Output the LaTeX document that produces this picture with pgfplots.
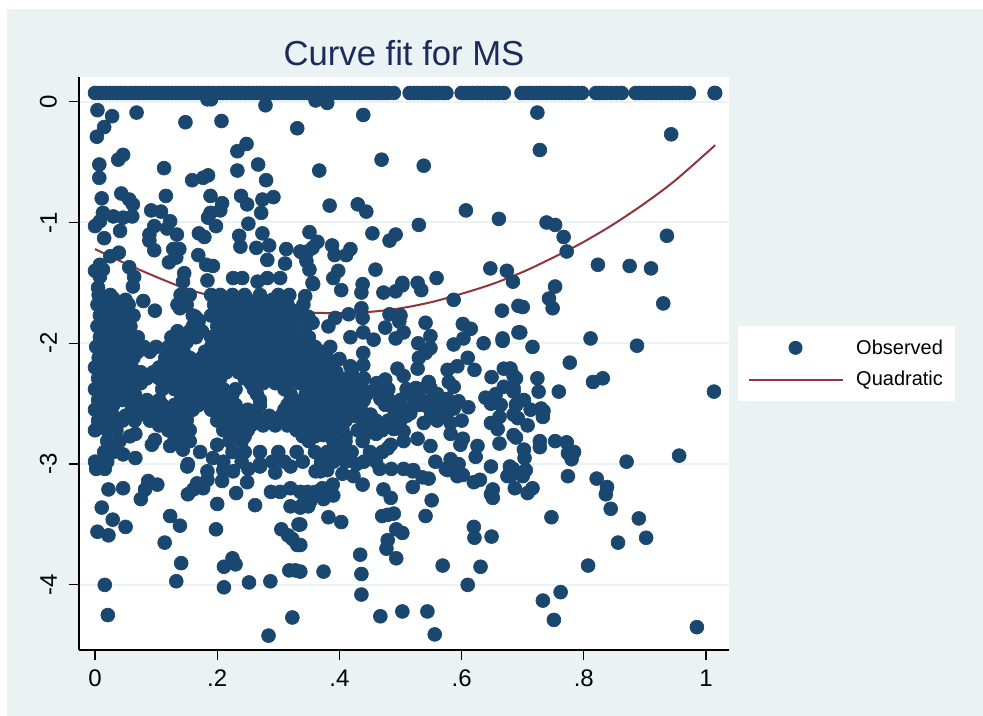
\documentclass[border=0pt]{standalone}
\usepackage{fontspec}
\setmainfont{Liberation Sans}
\usepackage{pgfplots}
\pgfplotsset{compat=1.18}
\definecolor{bgc}{HTML}{EAF2F3}
\definecolor{ptc}{HTML}{1A476F}
\definecolor{linec}{HTML}{90353B}
\definecolor{titlec}{HTML}{1C2B5C}
\begin{document}
\begin{tikzpicture}
\path[fill=white] (0,0) rectangle (737.25pt,537pt);
\path[fill=bgc] (5.25pt,0) rectangle (737.25pt,530pt);
\begin{axis}[
  at={(59.25pt,49.5pt)}, anchor=south west,
  scale only axis, width=487.5pt, height=429.75pt,
  xmin=-0.0262, xmax=1.0376, ymin=-4.539, ymax=0.2045,
  axis background/.style={fill=white},
  axis lines=left, axis line style={-, black, line width=0.9pt},
  xtick={0,0.2,0.4,0.6,0.8,1}, xticklabels={0,.2,.4,.6,.8,1},
  ytick={-4,-3,-2,-1,0}, yticklabels={-4,-3,-2,-1,0},
  tick align=outside, major tick length=7.5pt,
  tick style={black, line width=0.9pt},
  ymajorgrids, grid style={bgc, line width=1.5pt},
  tick label style={font=\fontsize{18}{18}\selectfont},
  xticklabel style={yshift=-4pt},
  yticklabel style={rotate=90, anchor=south, yshift=5.5pt},
  title={Curve fit for MS},
  title style={font=\fontsize{26}{26}\selectfont, text=titlec, yshift=-1pt},
  legend style={at={(1.0138,0.5654)}, anchor=north west, draw=none, fill=white,
    font=\fontsize{15}{15}\selectfont, inner xsep=7pt, inner ysep=8pt,
    row sep=7.5pt, cells={anchor=west}},
]
\addplot[only marks, mark=*, mark size=5.2pt, mark options={draw=ptc, fill=ptc, line width=0.5pt},
  legend image code/.code={\path[draw=none,fill=none] (0,0) -- (78.75pt,0); \path[draw=none,fill=ptc] (35.25pt,0) circle (5.25pt);}]
coordinates {
% top row
(0,.072)(.006,.072)(.012,.072)(.018,.072)(.024,.072)(.030,.072)(.036,.072)(.042,.072)(.048,.072)(.054,.072)(.060,.072)(.066,.072)(.072,.072)(.078,.072)(.084,.072)(.090,.072)(.096,.072)(.102,.072)(.108,.072)(.114,.072)(.120,.072)(.126,.072)(.132,.072)(.138,.072)(.144,.072)(.150,.072)(.156,.072)(.162,.072)(.168,.072)(.174,.072)(.180,.072)(.186,.072)(.192,.072)(.198,.072)(.204,.072)(.210,.072)(.216,.072)(.222,.072)(.228,.072)(.234,.072)(.240,.072)(.246,.072)(.252,.072)(.258,.072)(.264,.072)(.270,.072)(.276,.072)(.282,.072)(.288,.072)(.294,.072)(.300,.072)(.306,.072)(.312,.072)(.318,.072)(.324,.072)(.330,.072)(.336,.072)(.342,.072)(.348,.072)(.354,.072)(.360,.072)(.366,.072)(.372,.072)(.378,.072)(.384,.072)(.390,.072)(.396,.072)(.402,.072)(.408,.072)(.414,.072)(.420,.072)(.426,.072)(.432,.072)(.438,.072)(.444,.072)(.450,.072)(.456,.072)(.462,.072)(.468,.072)(.474,.072)(.480,.072)(.489,.072)
(.515,.072)(.522,.072)(.528,.072)(.535,.072)(.541,.072)(.547,.072)(.552,.072)(.558,.072)(.564,.072)(.570,.072)(.575,.072)
(.600,.072)(.606,.072)(.612,.072)(.618,.072)(.625,.072)(.630,.072)(.636,.072)(.642,.072)(.648,.072)(.654,.072)(.660,.072)(.669,.072)
(.698,.072)(.704,.072)(.710,.072)(.716,.072)(.722,.072)(.728,.072)(.734,.072)(.740,.072)(.746,.072)(.752,.072)(.758,.072)(.764,.072)(.770,.072)(.776,.072)(.782,.072)(.790,.072)(.797,.072)
(.820,.072)(.826,.072)(.832,.072)(.838,.072)(.845,.072)(.853,.072)(.862,.072)
(.885,.072)(.891,.072)(.897,.072)(.903,.072)(.909,.072)(.915,.072)(.921,.072)(.927,.072)(.933,.072)(.939,.072)(.945,.072)(.951,.072)(.957,.072)(.965,.072)(.972,.072)
(1.015,.072)(1.014,.072)
(.184,.02)(.19,.02)(.361,.01)(.380,-.01)
% upper left
(.004,-.07)(.028,-.12)(.068,-.09)(.015,-.21)(.003,-.29)(.148,-.17)(.207,-.16)(.279,-.03)(.331,-.22)(.248,-.35)(.233,-.41)(.046,-.44)(.038,-.48)(.007,-.52)(.007,-.63)(.113,-.55)(.159,-.65)(.177,-.63)(.185,-.61)(.233,-.57)(.267,-.52)(.280,-.65)(.116,-.78)(.011,-.80)(.043,-.76)(.056,-.81)(.062,-.85)(.189,-.78)(.208,-.84)(.205,-.90)(.189,-.92)(.185,-.96)(.198,-1.03)(.239,-.78)(.249,-.85)(.274,-.81)(.292,-.79)(.272,-.92)(.251,-1.01)(.274,-1.09)(.236,-1.11)(.238,-1.20)(.264,-1.21)(.285,-1.19)(.313,-1.22)(.282,-1.31)(.311,-1.34)(.336,-1.24)(.013,-.92)(.008,-.99)(0,-1.03)(.015,-1.13)(.041,-1.07)(.030,-.95)(.046,-.96)(.061,-.95)(.092,-.90)(.108,-.91)(.123,-.99)(.097,-1.03)(.089,-1.10)(.089,-1.15)(.097,-1.23)(.118,-1.05)(.134,-1.10)(.170,-1.09)(.179,-1.12)(.128,-1.22)(.138,-1.22)(.133,-1.29)(.121,-1.33)(.169,-1.27)(.182,-1.35)(.193,-1.36)(.146,-1.42)(.039,-1.25)(.025,-1.28)(.056,-1.37)(.064,-1.45)(.008,-1.35)(0,-1.40)(.013,-1.39)(.008,-1.45)(.184,-1.48)(.226,-1.46)(.241,-1.46)(.282,-1.46)(.303,-1.46)(.266,-1.49)(.144,-1.49)
% upper middle
(.439,-.11)(.469,-.48)(.538,-.53)(.367,-.57)(.384,-.86)(.430,-.85)(.444,-.91)(.607,-.90)(.661,-.97)(.530,-1.02)(.454,-1.09)(.492,-1.10)(.482,-1.15)(.351,-1.08)(.364,-1.16)(.348,-1.24)(.356,-1.21)(.339,-1.25)(.388,-1.19)(.392,-1.27)(.411,-1.27)(.418,-1.22)(.346,-1.32)(.351,-1.39)(.398,-1.40)(.390,-1.46)(.459,-1.39)(.559,-1.46)(.647,-1.38)(.674,-1.40)(.684,-1.49)(.503,-1.50)(.528,-1.50)(.438,-1.51)(.356,-1.50)
% upper right
(.724,-.09)(.728,-.40)(.943,-.27)(.739,-1.00)(.753,-1.02)(.767,-1.12)(.772,-1.24)(.936,-1.11)(.823,-1.35)(.875,-1.36)(.910,-1.38)
% just above the dense part
(.005,-1.54)(.062,-1.53)(.030,-1.63)(.079,-1.65)(.098,-1.73)(.139,-1.71)(.164,-1.78)
(.357,-1.51)(.403,-1.56)(.436,-1.58)(.472,-1.58)(.492,-1.57)(.503,-1.52)(.534,-1.56)(.587,-1.64)(.666,-1.73)(.693,-1.69)(.344,-1.61)(.341,-1.68)(.349,-1.78)(.356,-1.83)(.382,-1.86)(.393,-1.79)(.415,-1.76)(.436,-1.71)(.438,-1.79)(.418,-1.95)(.439,-1.91)(.456,-1.97)(.482,-1.76)(.500,-1.77)(.498,-1.82)(.475,-1.87)(.492,-1.96)(.505,-1.91)(.541,-1.83)(.549,-1.94)(.529,-2.00)(.549,-2.04)(.541,-2.08)(.530,-2.12)(.528,-2.21)(.602,-1.84)(.615,-1.88)(.603,-1.96)(.587,-2.01)(.636,-2.00)(.667,-1.96)(.667,-1.98)(.693,-1.91)(.610,-2.12)(.593,-2.19)(.577,-2.22)(.621,-2.22)(.649,-2.28)(.579,-2.32)(.587,-2.36)(.495,-2.21)(.505,-2.27)(.669,-2.21)(.679,-2.21)(.685,-2.27)(.669,-2.36)(.656,-2.42)(.639,-2.45)(.648,-2.50)(.664,-2.51)(.689,-2.51)(.685,-2.40)(.439,-2.08)(.439,-2.18)(.400,-2.13)(.418,-2.19)(.407,-2.30)(.475,-2.30)(.461,-2.33)(.525,-2.37)(.546,-2.32)(.549,-2.37)(.525,-2.46)(.521,-2.52)(.595,-2.48)(.611,-2.53)(.577,-2.46)(.587,-2.54)(.543,-2.52)(.538,-2.66)(.549,-2.85)(.582,-2.66)(.582,-2.75)(.602,-2.79)(.598,-2.84)(.626,-2.85)(.623,-2.94)(.662,-2.83)(.648,-2.66)(.659,-2.71)(.662,-2.61)(.685,-2.59)(.685,-2.76)(.557,-2.98)(.582,-2.96)(.595,-3.00)(.574,-3.04)(.648,-3.02)(.679,-3.02)(.516,-2.58)(.500,-2.55)(.528,-2.79)(.505,-2.81)(.484,-2.84)(.505,-2.73)(.489,-2.71)(.451,-2.59)(.467,-2.46)(.480,-2.46)(.430,-2.37)(.446,-2.40)(.374,-2.76)(.405,-2.71)(.438,-2.81)(.428,-3.00)(.479,-2.87)(.505,-3.04)(.521,-3.05)
% right side
(.753,-1.53)(.743,-1.63)(.749,-1.71)(.700,-1.70)(.930,-1.67)(.696,-1.91)(.716,-2.03)(.811,-1.96)(.887,-2.02)(.777,-2.16)(.724,-2.29)(.726,-2.40)(.759,-2.40)(.831,-2.29)(.815,-2.32)(1.013,-2.40)(.689,-2.29)(.680,-2.21)(.685,-2.37)(.702,-2.47)(.689,-2.51)(.713,-2.55)(.730,-2.54)(.734,-2.56)(.733,-2.61)(.708,-2.68)(.692,-2.62)(.689,-2.78)(.728,-2.81)(.728,-2.86)(.702,-2.88)(.703,-2.95)(.753,-2.81)(.772,-2.82)(.784,-2.90)(.774,-2.91)(.780,-2.96)(.870,-2.98)(.956,-2.93)(.705,-3.05)(.684,-3.04)
(.774,-3.10)(.821,-3.12)(.838,-3.19)(.836,-3.25)(.844,-3.37)(.890,-3.45)(.902,-3.61)(.856,-3.65)(.747,-3.44)(.807,-3.84)(.762,-4.06)(.733,-4.13)(.751,-4.29)(.985,-4.35)(.687,-3.20)(.708,-3.24)(.716,-3.20)(.700,-3.10)(.680,-3.10)
% lower middle
(.361,-3.06)(.380,-3.05)(.369,-3.06)(.405,-3.08)(.423,-3.10)(.438,-3.17)(.466,-3.04)(.485,-3.04)(.520,-3.06)(.520,-3.19)(.472,-3.21)(.484,-3.28)(.479,-3.42)(.489,-3.41)(.470,-3.43)(.551,-3.30)(.541,-3.43)(.536,-3.11)(.546,-3.12)(.577,-3.05)(.593,-3.10)(.602,-3.09)(.620,-3.15)(.630,-3.13)(.675,-3.10)(.651,-3.21)(.648,-3.25)(.651,-3.28)(.620,-3.52)(.621,-3.61)(.649,-3.60)(.569,-3.84)(.631,-3.85)(.610,-4.00)(.434,-3.75)(.436,-3.91)(.436,-4.08)(.374,-3.89)(.336,-3.89)(.493,-3.78)(.479,-3.63)(.477,-3.70)(.493,-3.54)(.503,-3.57)(.336,-3.50)(.336,-3.67)(.382,-3.44)(.403,-3.48)(.467,-4.26)(.503,-4.22)(.544,-4.22)(.556,-4.41)(.348,-3.23)(.361,-3.23)(.372,-3.20)(.389,-3.17)(.390,-3.26)(.374,-3.29)(.357,-3.25)(.349,-3.35)(.339,-3.34)(.352,-3.31)
% lower left
(.002,-3.04)(.016,-3.04)(.022,-3.21)(.046,-3.20)(.011,-3.36)(.029,-3.46)(.050,-3.52)(.004,-3.56)(.022,-3.59)(.016,-4.00)(.021,-4.25)(.087,-3.14)(.102,-3.17)(.082,-3.21)(.075,-3.29)(.123,-3.43)(.139,-3.51)(.114,-3.65)(.141,-3.82)(.133,-3.97)(.152,-3.25)(.161,-3.21)(.167,-3.16)(.177,-3.20)(.184,-3.13)(.184,-3.06)(.151,-3.02)(.208,-3.14)(.200,-3.33)(.198,-3.54)(.231,-3.24)(.249,-3.15)(.262,-3.34)(.210,-3.05)(.226,-3.06)(.251,-3.04)(.270,-3.02)(.295,-3.07)(.288,-3.23)(.303,-3.23)(.320,-3.20)(.320,-3.35)(.336,-3.23)(.336,-3.36)(.305,-3.54)(.316,-3.59)(.323,-3.62)(.331,-3.67)(.333,-3.50)(.225,-3.78)(.230,-3.83)(.211,-3.85)(.211,-4.02)(.252,-3.98)(.287,-3.97)(.318,-3.88)(.328,-3.88)(.323,-4.27)(.284,-4.42)(.320,-3.02)
% dense part, rows
(.006,-1.60)(.025,-1.60)(.14,-1.60)(.155,-1.60)(.19,-1.60)(.205,-1.60)(.225,-1.60)(.245,-1.60)(.27,-1.60)(.30,-1.60)(.318,-1.60)
(.004,-1.68)(.02,-1.68)(.04,-1.68)(.055,-1.68)(.135,-1.68)(.15,-1.68)(.195,-1.68)(.215,-1.68)(.235,-1.68)(.255,-1.68)(.275,-1.68)(.295,-1.68)(.315,-1.68)
(.008,-1.77)(.028,-1.77)(.048,-1.77)(.063,-1.77)(.16,-1.77)(.19,-1.77)(.21,-1.77)(.23,-1.77)(.25,-1.77)(.27,-1.77)(.29,-1.77)(.31,-1.77)(.33,-1.77)
(.004,-1.86)(.022,-1.86)(.042,-1.86)(.058,-1.86)(.16,-1.86)(.20,-1.86)(.22,-1.86)(.24,-1.86)(.26,-1.86)(.28,-1.86)(.30,-1.86)(.32,-1.86)(.345,-1.86)
(.008,-1.95)(.03,-1.95)(.05,-1.95)(.07,-1.95)(.125,-1.95)(.145,-1.95)(.165,-1.95)(.19,-1.95)(.21,-1.95)(.23,-1.95)(.25,-1.95)(.27,-1.95)(.29,-1.95)(.31,-1.95)(.33,-1.95)(.35,-1.95)
(.002,-2.03)(.02,-2.03)(.04,-2.03)(.06,-2.03)(.08,-2.03)(.10,-2.03)(.12,-2.03)(.14,-2.03)(.19,-2.03)(.21,-2.03)(.23,-2.03)(.25,-2.03)(.27,-2.03)(.29,-2.03)(.31,-2.03)(.33,-2.03)(.36,-2.03)(.385,-2.03)
(.006,-2.12)(.025,-2.12)(.045,-2.12)(.063,-2.12)(.115,-2.12)(.135,-2.12)(.155,-2.12)(.175,-2.12)(.195,-2.12)(.22,-2.12)(.24,-2.12)(.26,-2.12)(.28,-2.12)(.30,-2.12)(.32,-2.12)(.34,-2.12)(.36,-2.12)(.38,-2.12)
(0,-2.20)(.02,-2.20)(.04,-2.20)(.06,-2.20)(.105,-2.20)(.125,-2.20)(.145,-2.20)(.165,-2.20)(.185,-2.20)(.205,-2.20)(.225,-2.20)(.245,-2.20)(.265,-2.20)(.285,-2.20)(.305,-2.20)(.325,-2.20)(.345,-2.20)(.365,-2.20)(.385,-2.20)
(.005,-2.29)(.025,-2.29)(.045,-2.29)(.065,-2.29)(.085,-2.29)(.105,-2.29)(.125,-2.29)(.145,-2.29)(.165,-2.29)(.185,-2.29)(.205,-2.29)(.245,-2.29)(.265,-2.29)(.285,-2.29)(.305,-2.29)(.325,-2.29)(.345,-2.29)(.365,-2.29)(.385,-2.29)(.42,-2.29)(.44,-2.29)
(0,-2.38)(.02,-2.38)(.04,-2.38)(.06,-2.38)(.11,-2.38)(.13,-2.38)(.15,-2.38)(.17,-2.38)(.19,-2.38)(.21,-2.38)(.23,-2.38)(.26,-2.38)(.31,-2.38)(.35,-2.38)(.37,-2.38)(.39,-2.38)(.41,-2.38)(.46,-2.38)(.48,-2.38)(.51,-2.38)(.53,-2.38)
(.005,-2.47)(.025,-2.47)(.045,-2.47)(.065,-2.47)(.085,-2.47)(.105,-2.47)(.14,-2.47)(.16,-2.47)(.18,-2.47)(.20,-2.47)(.22,-2.47)(.27,-2.47)(.32,-2.47)(.34,-2.47)(.36,-2.47)(.38,-2.47)(.40,-2.47)(.42,-2.47)(.44,-2.47)(.50,-2.47)(.55,-2.47)(.57,-2.47)
(0,-2.55)(.02,-2.55)(.06,-2.55)(.08,-2.55)(.10,-2.55)(.12,-2.55)(.14,-2.55)(.16,-2.55)(.19,-2.55)(.21,-2.55)(.23,-2.55)(.25,-2.55)(.31,-2.55)(.33,-2.55)(.35,-2.55)(.37,-2.55)(.39,-2.55)(.41,-2.55)(.43,-2.55)(.49,-2.55)(.56,-2.55)(.58,-2.55)
(.005,-2.64)(.025,-2.64)(.045,-2.64)(.065,-2.64)(.09,-2.64)(.11,-2.64)(.13,-2.64)(.15,-2.64)(.20,-2.64)(.22,-2.64)(.24,-2.64)(.26,-2.64)(.28,-2.64)(.30,-2.64)(.32,-2.64)(.34,-2.64)(.36,-2.64)(.38,-2.64)(.41,-2.64)(.44,-2.64)(.46,-2.64)(.48,-2.64)(.50,-2.64)(.56,-2.64)(.60,-2.64)
(0,-2.72)(.02,-2.72)(.035,-2.72)(.12,-2.72)(.14,-2.72)(.155,-2.72)(.21,-2.72)(.23,-2.72)(.25,-2.72)(.33,-2.72)(.35,-2.72)(.39,-2.72)(.43,-2.72)(.45,-2.72)(.47,-2.72)
(.02,-2.81)(.04,-2.81)(.057,-2.77)(.066,-2.75)(.098,-2.80)(.093,-2.84)(.123,-2.85)(.14,-2.81)(.155,-2.81)(.20,-2.84)(.22,-2.81)(.24,-2.81)(.35,-2.81)(.39,-2.81)(.41,-2.81)(.46,-2.75)
(.015,-2.90)(.03,-2.90)(.046,-2.92)(.066,-2.95)(.144,-2.88)(.172,-2.90)(.193,-2.95)(.225,-2.90)(.245,-2.90)(.27,-2.90)(.30,-2.90)(.33,-2.90)(.36,-2.90)(.38,-2.90)(.40,-2.90)(.42,-2.90)(.45,-2.90)(.47,-2.90)
(.0,-2.98)(.02,-2.98)(.152,-3.00)(.21,-2.98)(.24,-2.98)(.27,-3.00)(.29,-2.98)(.31,-2.98)(.34,-2.98)(.37,-2.98)(.39,-2.98)(.41,-2.98)(.44,-2.98)(.46,-2.98)
% dense part, staggered rows
(.01,-1.64)(.03,-1.64)(.05,-1.64)(.01,-1.72)(.03,-1.72)(.05,-1.72)(.01,-1.81)(.03,-1.81)(.05,-1.81)(.01,-1.90)(.03,-1.90)(.05,-1.90)(.01,-1.99)(.03,-1.99)(.05,-1.99)(.01,-2.07)(.03,-2.07)(.05,-2.07)(.01,-2.16)(.03,-2.16)(.05,-2.16)(.01,-2.24)(.03,-2.24)(.05,-2.24)(.01,-2.33)(.03,-2.33)(.05,-2.33)(.01,-2.42)(.03,-2.42)(.05,-2.42)(.01,-2.51)(.03,-2.51)(.01,-2.60)(.03,-2.60)(.05,-2.60)(.01,-2.68)(.03,-2.68)
(.21,-1.64)(.23,-1.64)(.25,-1.64)(.27,-1.64)(.29,-1.64)(.31,-1.64)
(.20,-1.72)(.22,-1.72)(.24,-1.72)(.26,-1.72)(.28,-1.72)(.30,-1.72)(.32,-1.72)
(.17,-1.81)(.205,-1.81)(.225,-1.81)(.245,-1.81)(.265,-1.81)(.285,-1.81)(.305,-1.81)(.325,-1.81)
(.135,-1.90)(.155,-1.90)(.175,-1.90)(.205,-1.90)(.225,-1.90)(.245,-1.90)(.265,-1.90)(.285,-1.90)(.305,-1.90)(.325,-1.90)
(.13,-1.99)(.15,-1.99)(.20,-1.99)(.22,-1.99)(.24,-1.99)(.26,-1.99)(.28,-1.99)(.30,-1.99)(.32,-1.99)(.34,-1.99)
(.07,-2.07)(.09,-2.07)(.125,-2.07)(.145,-2.07)(.18,-2.07)(.205,-2.07)(.23,-2.07)(.25,-2.07)(.27,-2.07)(.29,-2.07)(.31,-2.07)(.33,-2.07)(.35,-2.07)(.37,-2.07)
(.115,-2.16)(.13,-2.16)(.15,-2.16)(.17,-2.16)(.19,-2.16)(.21,-2.16)(.23,-2.16)(.25,-2.16)(.27,-2.16)(.29,-2.16)(.31,-2.16)(.33,-2.16)(.35,-2.16)(.37,-2.16)(.39,-2.16)
(.075,-2.24)(.095,-2.24)(.115,-2.24)(.135,-2.24)(.155,-2.24)(.175,-2.24)(.195,-2.24)(.215,-2.24)(.235,-2.24)(.255,-2.24)(.275,-2.24)(.295,-2.24)(.315,-2.24)(.335,-2.24)(.355,-2.24)(.375,-2.24)(.395,-2.24)(.42,-2.24)
(.075,-2.33)(.12,-2.33)(.14,-2.33)(.16,-2.33)(.18,-2.33)(.20,-2.33)(.255,-2.33)(.275,-2.33)(.295,-2.33)(.315,-2.33)(.335,-2.33)(.355,-2.33)(.375,-2.33)(.395,-2.33)(.43,-2.33)
(.065,-2.42)(.145,-2.42)(.165,-2.42)(.185,-2.42)(.205,-2.42)(.225,-2.42)(.265,-2.42)(.32,-2.42)(.345,-2.42)(.365,-2.42)(.385,-2.42)(.405,-2.42)(.425,-2.42)(.445,-2.42)(.51,-2.42)(.53,-2.42)(.56,-2.42)
(.07,-2.51)(.09,-2.51)(.11,-2.51)(.13,-2.51)(.15,-2.51)(.17,-2.51)(.21,-2.51)(.23,-2.51)(.27,-2.51)(.315,-2.51)(.335,-2.51)(.355,-2.51)(.375,-2.51)(.395,-2.51)(.415,-2.51)(.435,-2.51)(.475,-2.51)(.50,-2.51)(.53,-2.51)(.56,-2.51)
(.07,-2.60)(.09,-2.60)(.11,-2.60)(.13,-2.60)(.15,-2.60)(.205,-2.60)(.225,-2.60)(.245,-2.60)(.265,-2.60)(.285,-2.60)(.305,-2.60)(.325,-2.60)(.345,-2.60)(.365,-2.60)(.385,-2.60)(.405,-2.60)(.425,-2.60)(.49,-2.60)(.51,-2.60)(.55,-2.60)(.57,-2.60)
(.105,-2.68)(.125,-2.68)(.145,-2.68)(.215,-2.68)(.235,-2.68)(.255,-2.68)(.275,-2.68)(.295,-2.68)(.315,-2.68)(.335,-2.68)(.355,-2.68)(.375,-2.68)(.395,-2.68)(.44,-2.68)(.46,-2.68)(.48,-2.68)
(.13,-2.77)(.15,-2.77)(.225,-2.77)(.245,-2.77)(.34,-2.77)(.36,-2.77)(.41,-2.77)(.44,-2.77)
};
\addlegendentry{Observed\hspace{5pt}}
\addplot[linec, line width=1.5pt, smooth,
  legend image code/.code={\path[draw=none] (0,0) -- (78.75pt,0); \draw[linec, line width=1.5pt] (0,0) -- (70.5pt,0);}]
coordinates {
(0,-1.22)(.05,-1.34)(.10,-1.45)(.15,-1.55)(.20,-1.62)(.25,-1.68)(.30,-1.72)(.35,-1.745)(.40,-1.75)(.45,-1.74)(.50,-1.71)(.55,-1.66)(.60,-1.59)(.65,-1.51)(.70,-1.41)(.75,-1.29)(.80,-1.16)(.85,-1.01)(.90,-.84)(.95,-.65)(1.015,-.36)
};
\addlegendentry{Quadratic\hspace{5pt}}
\end{axis}
\end{tikzpicture}
\end{document}
